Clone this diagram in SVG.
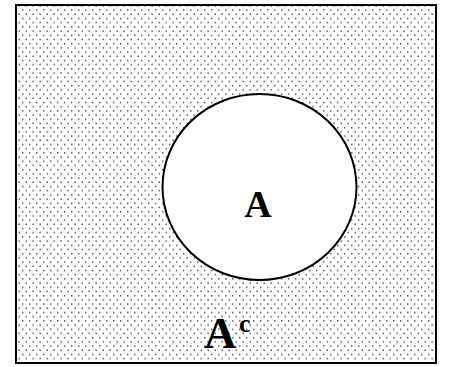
<svg xmlns="http://www.w3.org/2000/svg" width="457" height="367" viewBox="0 0 457 367">
<style>
.lbl{font-family:"Liberation Serif","Times New Roman",serif;font-weight:bold;fill:#000}
</style>
<defs>
<pattern id="dots" x="0" y="0" width="7" height="8.4" patternUnits="userSpaceOnUse">
<rect x="1" y="1" width="1.4" height="1.4" fill="#444"/>
<rect x="4.5" y="5.2" width="1.4" height="1.4" fill="#444"/>
</pattern>
</defs>
<rect width="457" height="367" fill="#fff"/>
<g id="universe">
<rect x="16" y="5" width="420" height="358" fill="url(#dots)" stroke="#000" stroke-width="2"/>
<text class="lbl" x="204" y="348" font-size="45">A</text>
<text class="lbl" x="239" y="332" font-size="26">c</text>
</g>
<g id="setA">
<ellipse cx="259.5" cy="187" rx="97" ry="93" fill="#fff" stroke="#000" stroke-width="2"/>
<text class="lbl" x="258" y="217" font-size="38" text-anchor="middle">A</text>
</g>
</svg>
